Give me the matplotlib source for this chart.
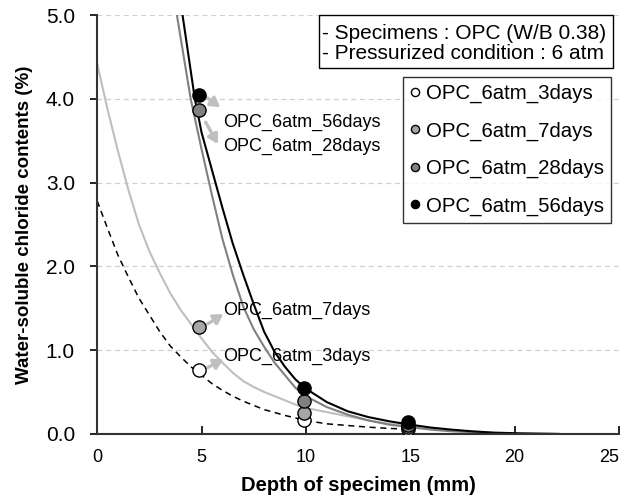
import matplotlib
matplotlib.use("Agg")
import matplotlib.pyplot as plt
from matplotlib.patches import Rectangle

plt.rcParams['font.family'] = ['Liberation Sans', 'DejaVu Sans']

# measured data points
depth = [4.9, 9.9, 14.9]
d3 = [0.76, 0.16, 0.06]
d7 = [1.27, 0.25, 0.08]
d28 = [3.87, 0.39, 0.11]
d56 = [4.04, 0.55, 0.14]

# trend curves
c56_x = [4.09, 4.68, 5.0, 5.5, 6.0, 6.5, 7.0, 7.5, 8.0, 8.5, 9.0, 9.5, 10.0, 11.0, 12.0, 13.0,
         14.0, 15.0, 16.0, 17.0, 18.0, 19.0, 20.0, 21.0, 22.1]
c56_y = [5.0, 4.0, 3.6, 3.15, 2.7, 2.27, 1.9, 1.55, 1.22, 0.98, 0.80, 0.65, 0.54, 0.38, 0.27, 0.20,
         0.15, 0.11, 0.075, 0.05, 0.03, 0.015, 0.008, 0.004, 0.0]
c28_x = [3.82, 4.48, 5.0, 5.5, 6.0, 6.5, 7.0, 7.5, 8.0, 8.5, 9.0, 9.5, 10.0, 11.0, 12.0, 13.0,
         14.0, 15.0, 16.0, 17.0, 18.0, 19.0, 20.0]
c28_y = [5.0, 4.0, 3.4, 2.85, 2.33, 1.9, 1.52, 1.25, 1.04, 0.85, 0.70, 0.55, 0.45, 0.32, 0.23, 0.16,
         0.11, 0.08, 0.05, 0.03, 0.02, 0.01, 0.0]
c7_x = [0.0, 0.5, 1.0, 1.5, 2.0, 2.5, 3.0, 3.5, 4.0, 4.5, 5.0, 5.5, 6.0, 6.5, 7.0, 7.5, 8.0, 8.5,
        9.0, 9.5, 10.0, 11.0, 12.0, 13.0, 14.0, 15.0, 16.0]
c7_y = [4.42, 3.87, 3.37, 2.91, 2.50, 2.18, 1.92, 1.68, 1.48, 1.31, 1.14, 0.98, 0.85, 0.73, 0.63,
        0.56, 0.50, 0.45, 0.40, 0.35, 0.31, 0.26, 0.21, 0.16, 0.12, 0.09, 0.06]
c3_x = [0.0, 0.5, 1.0, 1.5, 2.0, 2.5, 3.0, 3.5, 4.0, 4.5, 5.0, 5.5, 6.0, 6.5, 7.0, 7.5, 8.0, 9.0,
        10.0, 11.0, 12.0, 13.0, 14.0, 15.0]
c3_y = [2.78, 2.45, 2.13, 1.87, 1.62, 1.42, 1.22, 1.05, 0.92, 0.80, 0.70, 0.60, 0.52, 0.45, 0.39,
        0.34, 0.29, 0.22, 0.16, 0.12, 0.10, 0.08, 0.065, 0.055]

labels = ['OPC_6atm_3days', 'OPC_6atm_7days', 'OPC_6atm_28days', 'OPC_6atm_56days']
x_ticks = [0, 5, 10, 15, 20, 25]
y_ticks = [0.0, 1.0, 2.0, 3.0, 4.0, 5.0]

fig = plt.figure(figsize=(6.27, 5.01), dpi=100)
ax = fig.add_axes([0.155, 0.134, 0.832, 0.836])

for yv in y_ticks[1:]:
    ax.axhline(yv, color='#d0d0d0', lw=0.9, ls=(0, (4, 3)), zorder=0)

ax.plot(c3_x, c3_y, color='black', lw=1.1, ls=(0, (4, 3)), zorder=2)
ax.plot(c7_x, c7_y, color='#bfbfbf', lw=1.5, zorder=2)
ax.plot(c28_x, c28_y, color='#808080', lw=1.5, zorder=2)
ax.plot(c56_x, c56_y, color='black', lw=1.5, zorder=2)

faces = ['white', '#a6a6a6', '#808080', 'black']
for vals, fc, lab in zip([d3, d7, d28, d56], faces, labels):
    ax.plot(depth, vals, ls='none', marker='o', ms=9.5, mfc=fc, mec='black', mew=1.0,
            label=lab, zorder=4)

arrow_kw = dict(arrowstyle='-|>,head_length=0.55,head_width=0.32', color='#bfbfbf', lw=2.4,
                shrinkA=0, shrinkB=0)
ax.annotate('', xy=(5.90, 3.90), xytext=(5.28, 4.01), arrowprops=arrow_kw, zorder=3)
ax.annotate('', xy=(5.78, 3.46), xytext=(5.20, 3.72), arrowprops=arrow_kw, zorder=3)
ax.annotate('', xy=(6.05, 1.43), xytext=(5.28, 1.31), arrowprops=arrow_kw, zorder=3)
ax.annotate('', xy=(6.05, 0.89), xytext=(5.28, 0.79), arrowprops=arrow_kw, zorder=3)

ax.text(6.05, 3.72, 'OPC_6atm_56days', fontsize=13, va='center', ha='left')
ax.text(6.05, 3.43, 'OPC_6atm_28days', fontsize=13, va='center', ha='left')
ax.text(6.05, 1.47, 'OPC_6atm_7days', fontsize=13, va='center', ha='left')
ax.text(6.05, 0.92, 'OPC_6atm_3days', fontsize=13, va='center', ha='left')

ax.set_xlim(0, 25)
ax.set_ylim(0, 5)
ax.set_xticks(x_ticks)
ax.set_yticks(y_ticks)
ax.set_yticklabels([f'{v:.1f}' for v in y_ticks])
ax.tick_params(axis='x', direction='in', length=6, labelsize=13, pad=11, width=1.2)
ax.tick_params(axis='y', direction='out', length=5, labelsize=15, pad=11, width=1.2)
ax.get_xticklabels()[-1].set_horizontalalignment('right')
for s in ['top', 'right']:
    ax.spines[s].set_visible(False)
for s in ['left', 'bottom']:
    ax.spines[s].set_linewidth(1.5)
    ax.spines[s].set_color('#333333')

ax.set_xlabel('Depth of specimen (mm)', fontsize=14.5, fontweight='bold', labelpad=7)
ax.set_ylabel('Water-soluble chloride contents (%)', fontsize=13.5, fontweight='bold', labelpad=9)

leg = ax.legend(loc='upper right', bbox_to_anchor=(0.984, 0.852), fontsize=14.7, frameon=True,
                fancybox=False, edgecolor='black', markerscale=0.62, handlelength=0.5,
                handletextpad=0.3, labelspacing=0.9, borderpad=0.33, borderaxespad=0)
leg.get_frame().set_linewidth(1.0)

ax.add_patch(Rectangle((0.425, 0.874), 0.989 - 0.425, 1.0 - 0.874, transform=ax.transAxes,
                       fc='white', ec='black', lw=1.0, zorder=5, clip_on=False))
ax.text(0.431, 0.957, '- Specimens : OPC (W/B 0.38)', transform=ax.transAxes, fontsize=15,
        ha='left', va='center', zorder=6)
ax.text(0.431, 0.909, '- Pressurized condition : 6 atm', transform=ax.transAxes, fontsize=15,
        ha='left', va='center', zorder=6)

fig.savefig('out.png', dpi=100)
